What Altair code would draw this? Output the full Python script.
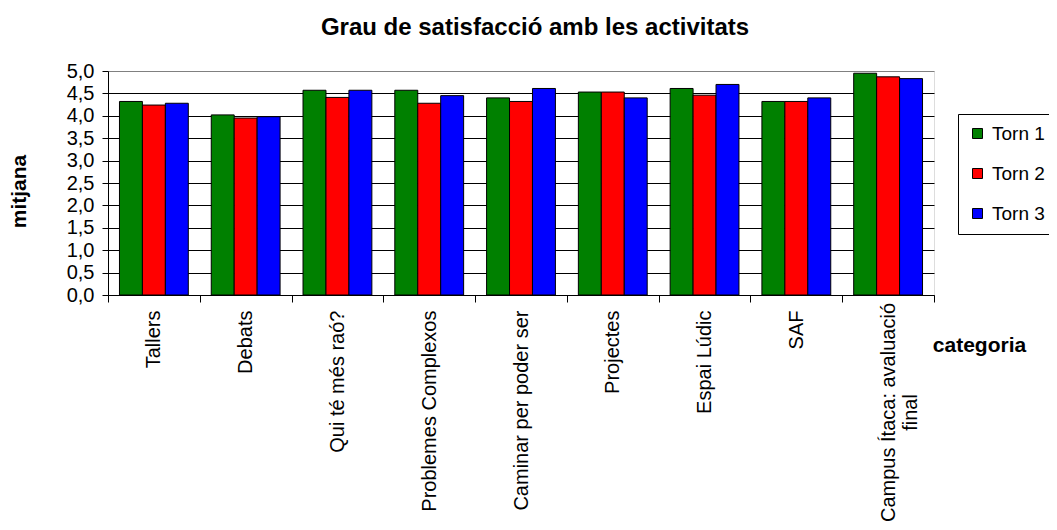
import altair as alt
import pandas as pd

categories = ["Tallers", "Debats", "Qui té més raó?", "Problemes Complexos",
              "Caminar per poder ser", "Projectes", "Espai Lúdic", "SAF",
              "Campus Ítaca: avaluació final"]
series = ["Torn 1", "Torn 2", "Torn 3"]
torn1 = [4.32, 4.02, 4.57, 4.57, 4.40, 4.53, 4.61, 4.32, 4.95]
torn2 = [4.24, 3.95, 4.41, 4.28, 4.32, 4.53, 4.46, 4.32, 4.87]
torn3 = [4.28, 3.98, 4.57, 4.45, 4.61, 4.40, 4.70, 4.40, 4.83]
colors = ["#008000", "#FF0000", "#0000FF"]
y_ticks = [0, 0.5, 1, 1.5, 2, 2.5, 3, 3.5, 4, 4.5, 5]

rows = []
for s, vals in zip(series, [torn1, torn2, torn3]):
    for c, v in zip(categories, vals):
        rows.append({"categoria": c, "torn": s, "mitjana": v})
df = pd.DataFrame(rows)

FONT = "Liberation Sans"
LONG = "Campus Ítaca: avaluació final"
test_long = f"datum.value == '{LONG}'"
label_expr = (f"{test_long} ? ['Campus Ítaca: avaluació', 'final'] : datum.value")

chart = alt.Chart(df).mark_bar(stroke="black", strokeWidth=1).encode(
    x=alt.X("categoria:N", sort=categories, title="categoria",
            scale=alt.Scale(paddingInner=0, paddingOuter=0),
            axis=alt.Axis(labelAngle=270,
                          labelAlign={"condition": {"test": test_long, "value": "center"},
                                      "value": "right"},
                          labelPadding={"condition": {"test": test_long, "value": 110},
                                        "value": 8},
                          labelBaseline="middle",
                          labelExpr=label_expr, labelLimit=400, labelOverlap=False,
                          labelFont=FONT, labelFontSize=20, labelColor="black",
                          tickBand="extent", tickSize=7,
                          tickColor="black", domainColor="black", grid=False,
                          titleFont=FONT, titleFontSize=21, titleFontWeight="bold",
                          titleColor="black", titleX=871, titleY=50,
                          titleAlign="center", titleBaseline="middle", titleAngle=0)),
    xOffset=alt.XOffset("torn:N", sort=series,
                        scale=alt.Scale(paddingInner=0, paddingOuter=0.5)),
    y=alt.Y("mitjana:Q", title="mitjana",
            scale=alt.Scale(domain=[0, 5], nice=False),
            axis=alt.Axis(values=y_ticks,
                          labelExpr="replace(format(datum.value, '.1f'), '.', ',')",
                          labelFont=FONT, labelFontSize=20, labelColor="black",
                          labelPadding=8, tickSize=6, tickColor="black",
                          domainColor="black",
                          gridColor={"condition": {"test": "datum.value >= 5", "value": "#808080"},
                                     "value": "black"},
                          gridWidth=1, gridOpacity=1,
                          titleFont=FONT, titleFontSize=21, titleFontWeight="bold",
                          titleColor="black", titleX=-89, titleY=120,
                          titleAlign="center", titleBaseline="middle", titleAngle=270)),
    color=alt.Color("torn:N", sort=series,
                    scale=alt.Scale(domain=series, range=colors),
                    legend=alt.Legend(orient="none", legendX=850, legendY=43, title=None,
                                      strokeColor="black", fillColor="white",
                                      padding=10, rowPadding=20,
                                      symbolType="square", symbolSize=100,
                                      symbolStrokeColor="black", symbolStrokeWidth=1,
                                      labelFont=FONT, labelFontSize=19, labelColor="black",
                                      labelOffset=5)),
).properties(
    width=826,
    height=224,
    autosize=alt.AutoSizeParams(type="none"),
    padding={"left": 100, "top": 63, "right": 115, "bottom": 227},
    title=alt.Title("Grau de satisfacció amb les activitats", font=FONT,
                    fontSize=24, fontWeight="bold", color="black",
                    anchor="middle", dx=14, dy=-17),
).configure_view(
    stroke="#808080", strokeWidth=1
).configure(background="white")

chart.save("out.html", embed_options={"renderer": "svg", "actions": False})
